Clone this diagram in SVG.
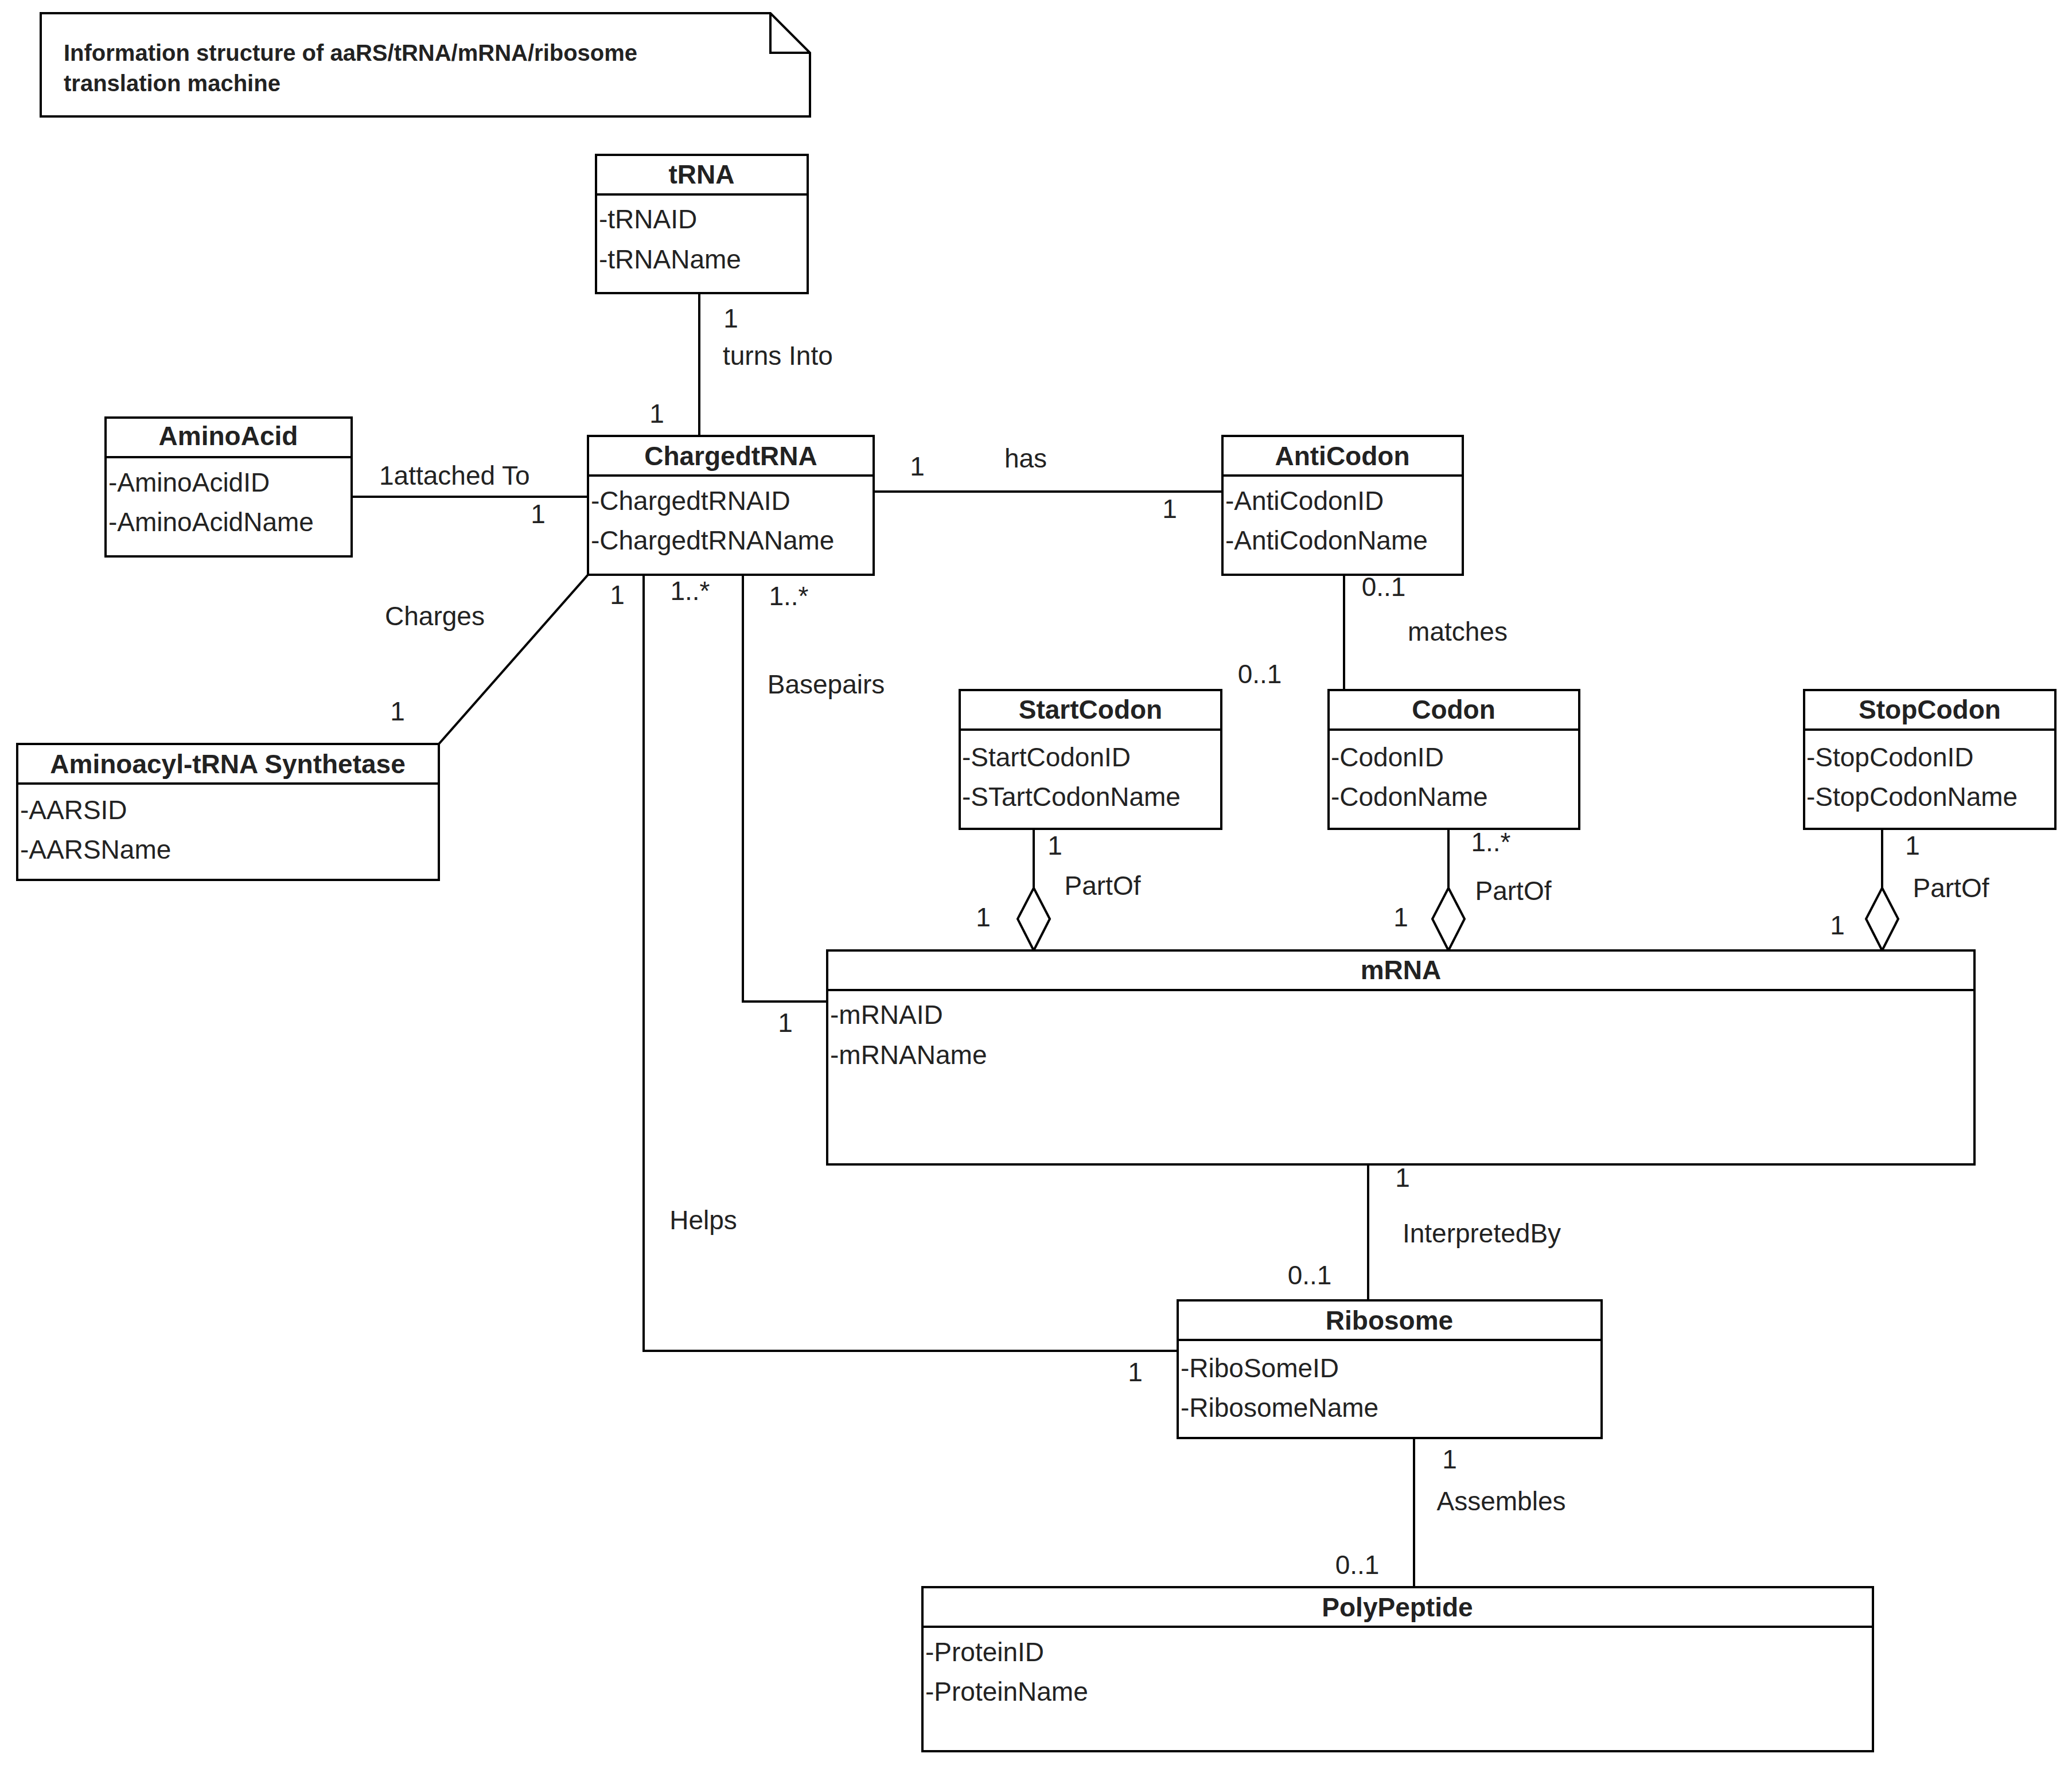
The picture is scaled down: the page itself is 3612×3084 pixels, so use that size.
<svg xmlns="http://www.w3.org/2000/svg" width="3612" height="3084" viewBox="0 0 3612 3084">
<style>
rect.b{fill:#fff;stroke:#000;stroke-width:4}
line,polyline,path{stroke:#000;stroke-width:4;fill:none}
text{font-family:"Liberation Sans",Arial,sans-serif;font-size:46px;fill:#222;dominant-baseline:central}
.t{font-weight:bold;text-anchor:middle}
.m{text-anchor:middle}
.n{font-weight:bold;font-size:40px}
</style>
<rect width="3612" height="3084" fill="#fff"/>
<g id="note"><path d="M71 23 H1343 L1412 92 V203 H71 Z"/><path d="M1343 23 V92 H1412"/>
<text class="n" x="111" y="92">Information structure of aaRS/tRNA/mRNA/ribosome</text><text class="n" x="111" y="145">translation machine</text></g>
<g id="connectors">
<line x1="1219" y1="511" x2="1219" y2="760"/>
<line x1="613" y1="866" x2="1025" y2="866"/>
<line x1="1523" y1="857" x2="2131" y2="857"/>
<line x1="1025" y1="1002" x2="765" y2="1297"/>
<line x1="2343" y1="1002" x2="2343" y2="1203"/>
<polyline points="1295,1002 1295,1746 1442,1746"/>
<polyline points="1122,1002 1122,2355 2053,2355"/>
<line x1="1802" y1="1445" x2="1802" y2="1548"/><path d="M1802 1548 L1830 1602 L1802 1657 L1774 1602 Z" fill="#fff"/>
<line x1="2525" y1="1445" x2="2525" y2="1548"/><path d="M2525 1548 L2553 1602 L2525 1657 L2497 1602 Z" fill="#fff"/>
<line x1="3281" y1="1445" x2="3281" y2="1548"/><path d="M3281 1548 L3309 1602 L3281 1657 L3253 1602 Z" fill="#fff"/>
<line x1="2385" y1="2030" x2="2385" y2="2267"/>
<line x1="2465" y1="2507" x2="2465" y2="2767"/>
<text class="m" x="1274" y="555">1</text><text x="1260" y="620">turns Into</text><text class="m" x="1145" y="721">1</text>
<text x="661" y="829">1attached To</text><text class="m" x="938" y="896">1</text>
<text class="m" x="1599" y="813">1</text><text class="m" x="1788" y="799">has</text><text class="m" x="2039" y="887">1</text>
<text class="m" x="758" y="1074">Charges</text><text class="m" x="1076" y="1037">1</text><text class="m" x="693" y="1240">1</text>
<text class="m" x="1203" y="1030">1..*</text><text class="m" x="1375" y="1039">1..*</text>
<text class="m" x="2412" y="1023">0..1</text><text class="m" x="2541" y="1101">matches</text><text class="m" x="2196" y="1175">0..1</text>
<text class="m" x="1440" y="1193">Basepairs</text><text class="m" x="1369" y="1783">1</text>
<text class="m" x="1226" y="2127">Helps</text><text class="m" x="1979" y="2392">1</text>
<text class="m" x="1839" y="1474">1</text><text class="m" x="1922" y="1544">PartOf</text><text class="m" x="1714" y="1599">1</text>
<text class="m" x="2599" y="1468">1..*</text><text class="m" x="2638" y="1553">PartOf</text><text class="m" x="2442" y="1599">1</text>
<text class="m" x="3334" y="1474">1</text><text class="m" x="3401" y="1548">PartOf</text><text class="m" x="3203" y="1613">1</text>
<text class="m" x="2445" y="2053">1</text><text class="m" x="2583" y="2150">InterpretedBy</text><text class="m" x="2283" y="2223">0..1</text>
<text class="m" x="2527" y="2544">1</text><text class="m" x="2617" y="2617">Assembles</text><text class="m" x="2366" y="2728">0..1</text>
</g>
<g id="tRNA"><rect class="b" x="1039" y="270" width="369" height="241"/><line x1="1039" y1="339" x2="1408" y2="339"/><text class="t" x="1223" y="304">tRNA</text><text x="1044" y="382">-tRNAID</text><text x="1044" y="452">-tRNAName</text></g>
<g id="AminoAcid"><rect class="b" x="184" y="728" width="429" height="242"/><line x1="184" y1="797" x2="613" y2="797"/><text class="t" x="398" y="760">AminoAcid</text><text x="189" y="841">-AminoAcidID</text><text x="189" y="910">-AminoAcidName</text></g>
<g id="ChargedtRNA"><rect class="b" x="1025" y="760" width="498" height="242"/><line x1="1025" y1="829" x2="1523" y2="829"/><text class="t" x="1274" y="795">ChargedtRNA</text><text x="1030" y="873">-ChargedtRNAID</text><text x="1030" y="942">-ChargedtRNAName</text></g>
<g id="AntiCodon"><rect class="b" x="2131" y="760" width="419" height="242"/><line x1="2131" y1="829" x2="2550" y2="829"/><text class="t" x="2340" y="795">AntiCodon</text><text x="2136" y="873">-AntiCodonID</text><text x="2136" y="942">-AntiCodonName</text></g>
<g id="Aminoacyl"><rect class="b" x="30" y="1297" width="735" height="237"/><line x1="30" y1="1366" x2="765" y2="1366"/><text class="t" x="397" y="1332">Aminoacyl-tRNA Synthetase</text><text x="35" y="1412">-AARSID</text><text x="35" y="1481">-AARSName</text></g>
<g id="StartCodon"><rect class="b" x="1673" y="1203" width="456" height="242"/><line x1="1673" y1="1272" x2="2129" y2="1272"/><text class="t" x="1901" y="1237">StartCodon</text><text x="1677" y="1320">-StartCodonID</text><text x="1677" y="1389">-STartCodonName</text></g>
<g id="Codon"><rect class="b" x="2316" y="1203" width="437" height="242"/><line x1="2316" y1="1272" x2="2753" y2="1272"/><text class="t" x="2534" y="1237">Codon</text><text x="2320" y="1320">-CodonID</text><text x="2320" y="1389">-CodonName</text></g>
<g id="StopCodon"><rect class="b" x="3145" y="1203" width="438" height="242"/><line x1="3145" y1="1272" x2="3583" y2="1272"/><text class="t" x="3364" y="1237">StopCodon</text><text x="3149" y="1320">-StopCodonID</text><text x="3149" y="1389">-StopCodonName</text></g>
<g id="mRNA"><rect class="b" x="1442" y="1657" width="2000" height="373"/><line x1="1442" y1="1726" x2="3442" y2="1726"/><text class="t" x="2442" y="1691">mRNA</text><text x="1447" y="1769">-mRNAID</text><text x="1447" y="1839">-mRNAName</text></g>
<g id="Ribosome"><rect class="b" x="2053" y="2267" width="739" height="240"/><line x1="2053" y1="2336" x2="2792" y2="2336"/><text class="t" x="2422" y="2302">Ribosome</text><text x="2058" y="2385">-RiboSomeID</text><text x="2058" y="2454">-RibosomeName</text></g>
<g id="PolyPeptide"><rect class="b" x="1608" y="2767" width="1657" height="286"/><line x1="1608" y1="2836" x2="3265" y2="2836"/><text class="t" x="2436" y="2802">PolyPeptide</text><text x="1613" y="2880">-ProteinID</text><text x="1613" y="2949">-ProteinName</text></g>
</svg>
